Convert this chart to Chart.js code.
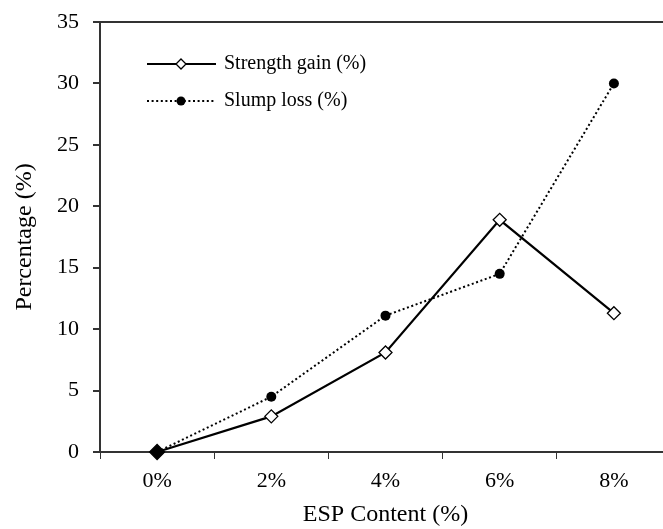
<!DOCTYPE html>
<html>
<head>
<meta charset="utf-8">
<script src="https://cdn.jsdelivr.net/npm/chart.js@4"></script>
<style>
  html, body { margin: 0; padding: 0; background: #fff; overflow: hidden; }
  #wrap { width: 680px; height: 529px; }
</style>
</head>
<body>
<div id="wrap"><canvas id="grafico"></canvas></div>
<script>
// dados
const categorias = ['0%', '2%', '4%', '6%', '8%'];
const ganhoResistencia = [0, 2.9, 8.1, 18.9, 11.3];
const perdaAbaixamento = [0, 4.5, 11.1, 14.5, 30.0];
const nomesSeries = ['Strength gain (%)', 'Slump loss (%)'];

const FONTE = '"Liberation Serif", "Times New Roman", serif';
const EIXO = '#333';

// legenda desenhada dentro da área do gráfico + linha superior da caixa
const legendaInterna = {
    id: 'legendaInterna',
    afterDatasetsDraw(chart) {
        const ctx = chart.ctx;
        const area = chart.chartArea;
        ctx.save();
        // borda superior
        ctx.strokeStyle = EIXO;
        ctx.lineWidth = 2;
        ctx.beginPath();
        ctx.moveTo(area.left, area.top);
        ctx.lineTo(area.right, area.top);
        ctx.stroke();

        const linhas = [
            { y: 64, dash: [], ds: chart.data.datasets[0] },
            { y: 101, dash: [2, 2.6], ds: chart.data.datasets[1] }
        ];
        linhas.forEach((l, i) => {
            ctx.strokeStyle = '#000';
            ctx.lineWidth = 2;
            ctx.setLineDash(l.dash);
            ctx.beginPath();
            ctx.moveTo(147, l.y);
            ctx.lineTo(216, l.y);
            ctx.stroke();
            ctx.setLineDash([]);
            ctx.lineWidth = 1.3;
            if (i === 0) {
                ctx.fillStyle = '#fff';
                ctx.beginPath();
                ctx.moveTo(181, l.y - 5);
                ctx.lineTo(186, l.y);
                ctx.lineTo(181, l.y + 5);
                ctx.lineTo(176, l.y);
                ctx.closePath();
                ctx.fill();
                ctx.stroke();
            } else {
                ctx.fillStyle = '#000';
                ctx.beginPath();
                ctx.arc(181, l.y, 4.5, 0, Math.PI * 2);
                ctx.fill();
            }
            ctx.fillStyle = '#000';
            ctx.font = '20px ' + FONTE;
            ctx.textBaseline = 'middle';
            ctx.fillText(l.ds.label, 224, l.y);
        });
        ctx.restore();
    }
};

new Chart(document.getElementById('grafico'), {
    type: 'line',
    data: {
        labels: categorias,
        datasets: [{
            label: nomesSeries[0],
            data: ganhoResistencia,
            borderColor: '#000',
            borderWidth: 2.2,
            pointStyle: 'rectRot',
            pointRadius: [7.5, 6.5, 6.5, 6.5, 6.5],
            pointBorderWidth: 1.3,
            pointBorderColor: '#000',
            pointBackgroundColor: ['#000', '#fff', '#fff', '#fff', '#fff'],
            tension: 0,
            clip: false
        }, {
            label: nomesSeries[1],
            data: perdaAbaixamento,
            borderColor: '#000',
            borderWidth: 2,
            borderDash: [2, 2.6],
            pointStyle: 'circle',
            pointRadius: [0, 5, 5, 5, 5],
            pointBorderWidth: 0,
            pointBackgroundColor: '#000',
            tension: 0,
            clip: false
        }]
    },
    options: {
        responsive: true,
        maintainAspectRatio: false,
        animation: false,
        layout: { padding: { top: 22, right: 9, left: 0, bottom: 0 } },
        plugins: {
            legend: { display: false },
            tooltip: { enabled: false }
        },
        scales: {
            x: {
                type: 'category',
                offset: true,
                grid: { offset: true, drawOnChartArea: false, tickLength: 7, color: EIXO, lineWidth: 1 },
                border: { color: EIXO, width: 2 },
                ticks: { color: '#000', font: { family: FONTE, size: 22 }, padding: 9 },
                title: { display: true, text: 'ESP Content (%)', color: '#000', font: { family: FONTE, size: 24 }, padding: { top: 4, bottom: 0 } },
                afterFit: (s) => { s.height = 77; s.paddingLeft = 0; s.paddingRight = 0; }
            },
            y: {
                min: 0,
                max: 35,
                ticks: { stepSize: 5, color: '#000', font: { family: FONTE, size: 22 }, padding: 14 },
                grid: { drawOnChartArea: false, tickLength: 7, color: EIXO, lineWidth: 2 },
                border: { color: EIXO, width: 2 },
                title: { display: true, text: 'Percentage (%)', color: '#000', font: { family: FONTE, size: 24 }, padding: { top: 10, bottom: 0 } },
                afterFit: (s) => { s.width = 100; s.paddingTop = 0; s.paddingBottom = 0; }
            }
        }
    },
    plugins: [legendaInterna]
});
</script>
</body>
</html>
